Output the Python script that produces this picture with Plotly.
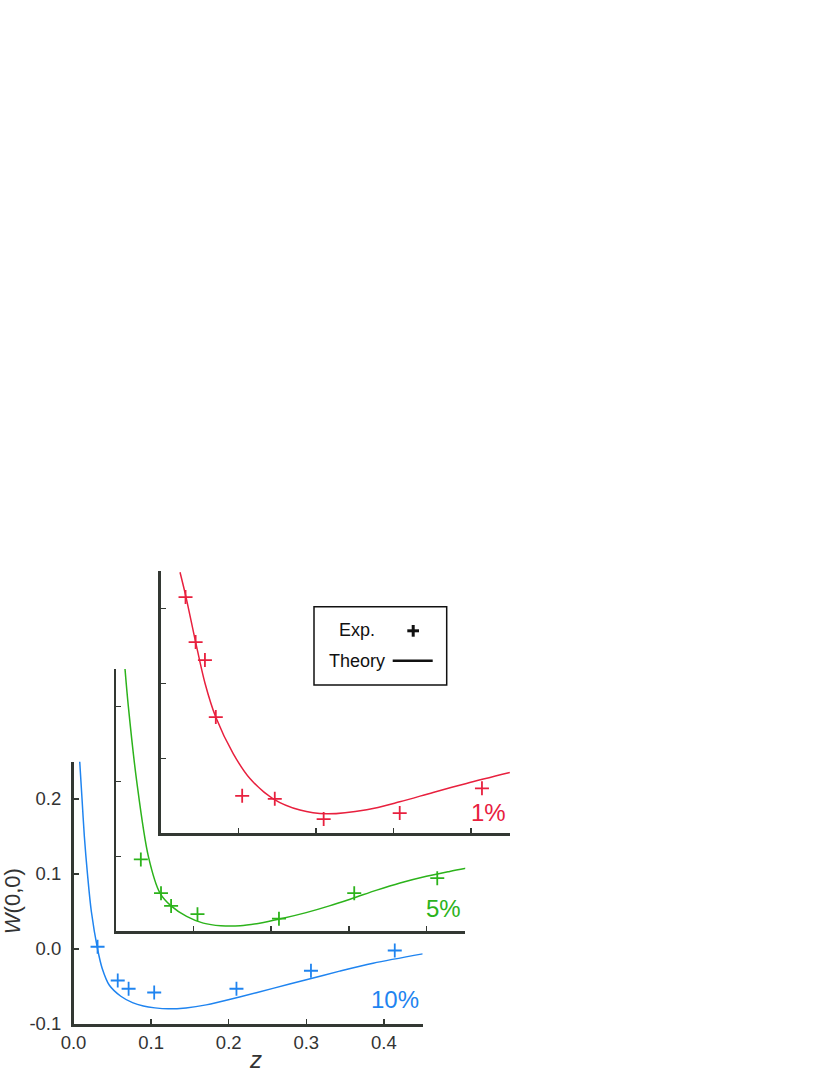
import plotly.graph_objects as go

W, H = 830, 1075

# ---------------- data (each panel in its own axis frame) ----------------
# 10 % (blue, labelled axes)
z_exp_10 = [0.031, 0.057, 0.071, 0.104, 0.210, 0.306, 0.414]
w_exp_10 = [0.003, -0.042, -0.053, -0.058, -0.053, -0.029, -0.002]
z_th_10 = [0.008, 0.011, 0.014, 0.018, 0.023, 0.031, 0.037, 0.046, 0.061, 0.076,
           0.090, 0.105, 0.122, 0.145, 0.171, 0.214, 0.257, 0.300, 0.343, 0.386, 0.450]
w_th_10 = [0.250, 0.200, 0.150, 0.100, 0.050, 0.000, -0.026, -0.048, -0.063, -0.0715,
           -0.076, -0.0785, -0.0798, -0.0785, -0.0745, -0.064, -0.0525, -0.041, -0.0295,
           -0.019, -0.0065]

# 5 % (green, offset axes)
z_exp_5 = [0.032, 0.058, 0.071, 0.105, 0.210, 0.307, 0.414]
w_exp_5 = [-0.004, -0.049, -0.066, -0.077, -0.083, -0.049, -0.029]
z_th_5 = [0.0116, 0.0159, 0.0267, 0.0417, 0.0567, 0.0709, 0.091, 0.1125, 0.135,
          0.160, 0.185, 0.211, 0.245, 0.275, 0.306, 0.336, 0.366, 0.400, 0.430, 0.451]
w_th_5 = [0.250, 0.200, 0.100, 0.000, -0.049, -0.066, -0.080, -0.089, -0.0925,
          -0.0925, -0.089, -0.0835, -0.075, -0.066, -0.0555, -0.045, -0.0355, -0.0265,
          -0.020, -0.0158]

# 1 % (red, offset axes)
z_exp_1 = [0.032, 0.045, 0.057, 0.071, 0.105, 0.147, 0.210, 0.308, 0.414]
w_exp_1 = [0.215, 0.155, 0.131, 0.055, -0.050, -0.054, -0.081, -0.073, -0.040]
z_th_1 = [0.0249, 0.0326, 0.045, 0.0571, 0.0709, 0.0936, 0.115, 0.145,
          0.1795, 0.214, 0.2655, 0.308, 0.351, 0.394, 0.450]
w_th_1 = [0.248, 0.215, 0.155, 0.100, 0.055, 0.006, -0.027, -0.054,
          -0.069, -0.074, -0.0685, -0.058, -0.0455, -0.0335, -0.019]

x_ticks = [0.0, 0.1, 0.2, 0.3, 0.4]
x_tick_labels = ["0.0", "0.1", "0.2", "0.3", "0.4"]
y_ticks = [-0.1, 0.0, 0.1, 0.2]
y_tick_labels = ["-0.1", "0.0", "0.1", "0.2"]
panel_labels = ["10%", "5%", "1%"]

# ---------------- styling ----------------
BLUE = "#1f84f0"
GREEN = "#2cb31b"
RED = "#e8203e"
AX = "#333833"
TXT = "#333333"
FONT = "Liberation Sans, Arial, Helvetica, sans-serif"


def px(x):
    return x / W


def py(y):
    return 1 - y / H


# panel frames in pixels: (left, bottom)
PW, PH = 349.2, 262.5
frames = [(73.5, 1024.0), (116.0, 931.4), (160.7, 833.3)]

fig = go.Figure()

series = [
    (z_th_10, w_th_10, z_exp_10, w_exp_10, BLUE),
    (z_th_5, w_th_5, z_exp_5, w_exp_5, GREEN),
    (z_th_1, w_th_1, z_exp_1, w_exp_1, RED),
]

for i, (zt, wt, ze, we, col) in enumerate(series):
    xa = "x" if i == 0 else f"x{i+1}"
    ya = "y" if i == 0 else f"y{i+1}"
    fig.add_trace(go.Scatter(x=zt, y=wt, mode="lines", xaxis=xa, yaxis=ya,
                             line=dict(color=col, width=1.5, shape="spline", smoothing=0.9),
                             showlegend=False, hoverinfo="skip"))
    fig.add_trace(go.Scatter(x=ze, y=we, mode="markers", xaxis=xa, yaxis=ya,
                             marker=dict(symbol="cross-thin", size=10,
                                         line=dict(color=col, width=1.8)),
                             showlegend=False, hoverinfo="skip", cliponaxis=False))

for i, (l, b) in enumerate(frames):
    first = i == 0
    xkey = "xaxis" if first else f"xaxis{i+1}"
    ykey = "yaxis" if first else f"yaxis{i+1}"
    xa_anchor = "y" if first else f"y{i+1}"
    ya_anchor = "x" if first else f"x{i+1}"
    common = dict(showline=True, linecolor=AX, linewidth=2.5, ticks="inside",
                  ticklen=5, tickwidth=1.5, tickcolor=AX, showgrid=False,
                  zeroline=False, fixedrange=True, automargin=False,
                  tickfont=dict(family=FONT, size=18.5, color=TXT))
    fig.update_layout(**{
        xkey: dict(common, domain=[px(l), px(l + PW)], range=[0, 0.45],
                   anchor=xa_anchor, tickvals=x_ticks, ticktext=x_tick_labels,
                   showticklabels=first, ticklabelstandoff=0),
        ykey: dict(common, domain=[py(b), py(b - PH)], range=[-0.1, 0.25],
                   anchor=ya_anchor, tickvals=y_ticks, ticktext=y_tick_labels,
                   showticklabels=first, ticklabelstandoff=6),
    })

annotations = []
# panel percentage labels
for lab, col, (rx, cy) in zip(panel_labels, [BLUE, GREEN, RED],
                              [(421, 999), (462.7, 908), (508, 812.5)]):
    annotations.append(dict(text=lab, x=px(rx), y=py(cy), xref="paper", yref="paper",
                            xanchor="right", yanchor="middle", showarrow=False,
                            font=dict(family=FONT, size=24, color=col)))

# axis titles
annotations.append(dict(text="<i>W</i>(0,0)", x=px(12.5), y=py(901.7), xref="paper",
                        yref="paper", textangle=-90, showarrow=False,
                        xanchor="center", yanchor="middle",
                        font=dict(family=FONT, size=22, color=TXT)))
annotations.append(dict(text="<i>z</i>", x=px(255), y=py(1074.5), xref="paper",
                        yref="paper", showarrow=False, xanchor="center",
                        yanchor="bottom", font=dict(family=FONT, size=24, color=TXT)))

# legend text
annotations.append(dict(text="Exp.", x=px(356.5), y=py(630.3), xref="paper", yref="paper",
                        showarrow=False, xanchor="center", yanchor="middle",
                        font=dict(family=FONT, size=18, color="#111111")))
annotations.append(dict(text="Theory", x=px(356.5), y=py(661), xref="paper", yref="paper",
                        showarrow=False, xanchor="center", yanchor="middle",
                        font=dict(family=FONT, size=18, color="#111111")))

shapes = [
    dict(type="rect", xref="paper", yref="paper", x0=px(314), x1=px(446.7),
         y0=py(685), y1=py(606.7), line=dict(color="#111111", width=1.5),
         fillcolor="white", layer="below"),
    # legend glyph: plus
    dict(type="line", xref="paper", yref="paper", x0=px(407.3), x1=px(419),
         y0=py(630.8), y1=py(630.8), line=dict(color="#111111", width=3)),
    dict(type="line", xref="paper", yref="paper", x0=px(413.2), x1=px(413.2),
         y0=py(625), y1=py(636.7), line=dict(color="#111111", width=3)),
    # legend glyph: line
    dict(type="line", xref="paper", yref="paper", x0=px(392.7), x1=px(432.7),
         y0=py(660.7), y1=py(660.7), line=dict(color="#111111", width=2.5)),
]

fig.update_layout(width=W, height=H,
                  margin=dict(l=0, r=0, t=0, b=0, pad=0, autoexpand=False),
                  paper_bgcolor="white", plot_bgcolor="rgba(0,0,0,0)",
                  showlegend=False, annotations=annotations, shapes=shapes,
                  font=dict(family=FONT, color=TXT))

fig.write_html("out.html",
               config={"displayModeBar": False, "staticPlot": True},
               post_script="document.body.style.margin='0px';"
                           "document.body.style.overflow='hidden';")
